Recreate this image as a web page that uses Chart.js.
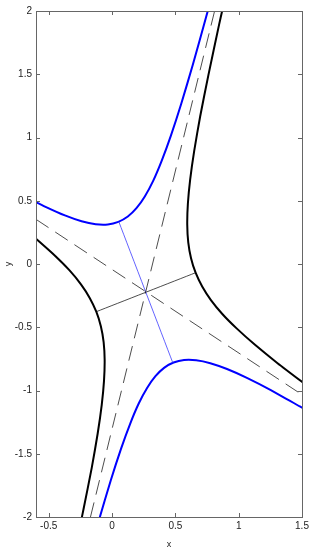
<!DOCTYPE html>
<html>
<head>
<meta charset="utf-8">
<script src="https://cdn.jsdelivr.net/npm/chart.js@4"></script>
<style>
  html, body { margin: 0; padding: 0; background: #fff; }
  canvas { display: block; }
</style>
</head>
<body>
<canvas id="chart" width="321" height="550"></canvas>
<script>
// tick labels
const xTicks = [-0.5, 0, 0.5, 1, 1.5];
const yTicks = [-2, -1.5, -1, -0.5, 0, 0.5, 1, 1.5, 2];

// blue hyperbola, upper-left branch
const blueUpper = [
  [-0.619, 0.499], [-0.529, 0.454], [-0.372, 0.384], [-0.240, 0.338], [-0.129, 0.315],
  [-0.033, 0.313], [0.050, 0.333], [0.125, 0.375], [0.193, 0.441], [0.259, 0.534],
  [0.325, 0.657], [0.392, 0.815], [0.465, 1.015], [0.546, 1.265], [0.638, 1.575],
  [0.744, 1.956], [0.774, 2.065]
];
// blue hyperbola, lower-right branch
const blueLower = [
  [-0.127, -2.109], [-0.102, -2.021], [-0.010, -1.711], [0.071, -1.461], [0.144, -1.261],
  [0.211, -1.103], [0.277, -0.980], [0.343, -0.887], [0.411, -0.821], [0.486, -0.779],
  [0.569, -0.759], [0.665, -0.761], [0.776, -0.784], [0.908, -0.830], [1.065, -0.900],
  [1.254, -0.997], [1.483, -1.126], [1.548, -1.163]
];
// black hyperbola, upper-right branch
const blackUpper = [
  [1.588, -0.997], [1.526, -0.951], [1.307, -0.784], [1.129, -0.639], [0.986, -0.511],
  [0.871, -0.395], [0.781, -0.285], [0.712, -0.178], [0.660, -0.069], [0.624, 0.046],
  [0.602, 0.171], [0.594, 0.313], [0.599, 0.476], [0.617, 0.667], [0.649, 0.894],
  [0.696, 1.166], [0.761, 1.493], [0.845, 1.890], [0.870, 2.002]
];
// black hyperbola, lower-left branch
const blackLower = [
  [-0.634, 0.227], [-0.593, 0.193], [-0.450, 0.065], [-0.335, -0.051], [-0.245, -0.161],
  [-0.176, -0.268], [-0.124, -0.377], [-0.088, -0.492], [-0.066, -0.618], [-0.058, -0.759],
  [-0.063, -0.922], [-0.081, -1.113], [-0.113, -1.340], [-0.160, -1.612], [-0.225, -1.939],
  [-0.244, -2.032]
];
// asymptotes (dashed)
const asymA = [[-0.6, 0.353], [1.5, -1.033]];
const asymB = [[-0.17, -2], [0.81, 2]];
// axes of the hyperbolas
const blueAxis = [[0.054, 0.334], [0.480, -0.781]];
const blackAxis = [[-0.124, -0.377], [0.660, -0.069]];

const pts = arr => arr.map(([x, y]) => ({ x, y }));

function curve(data, color, width) {
  return { data: pts(data), borderColor: color, borderWidth: width, showLine: true,
           pointRadius: 0, tension: 0.2, fill: false };
}
function dashed(data) {
  return { data: pts(data), borderColor: 'rgba(0,0,0,0.7)', borderWidth: 1, showLine: true,
           pointRadius: 0, borderDash: [15, 8], fill: false };
}

// frame with inward tick marks on all four sides
const frame = {
  id: 'frame',
  afterDraw(c) {
    const { ctx, chartArea: a, scales } = c;
    ctx.save();
    ctx.strokeStyle = '#666';
    ctx.lineWidth = 1;
    ctx.strokeRect(a.left + 0.5, a.top + 0.5, a.right - a.left, a.bottom - a.top);
    ctx.beginPath();
    xTicks.forEach(v => {
      const px = Math.round(scales.x.getPixelForValue(v)) + 0.5;
      ctx.moveTo(px, a.bottom); ctx.lineTo(px, a.bottom - 4);
      ctx.moveTo(px, a.top); ctx.lineTo(px, a.top + 4);
    });
    yTicks.forEach(v => {
      const py = Math.round(scales.y.getPixelForValue(v)) + 0.5;
      ctx.moveTo(a.left, py); ctx.lineTo(a.left + 4, py);
      ctx.moveTo(a.right, py); ctx.lineTo(a.right - 4, py);
    });
    ctx.stroke();
    ctx.restore();
  }
};

const font = { family: 'Liberation Sans, Arial, sans-serif', size: 10 };

new Chart(document.getElementById('chart').getContext('2d'), {
  type: 'scatter',
  data: {
    datasets: [
      dashed(asymA),
      dashed(asymB),
      curve(blueAxis, 'rgba(60,60,255,0.8)', 1),
      curve(blackAxis, 'rgba(0,0,0,0.7)', 1),
      curve(blueUpper, '#0000ff', 2),
      curve(blueLower, '#0000ff', 2),
      curve(blackUpper, '#000000', 2),
      curve(blackLower, '#000000', 2)
    ]
  },
  options: {
    responsive: false,
    animation: false,
    layout: { padding: 0 },
    plugins: { legend: { display: false }, tooltip: { enabled: false } },
    scales: {
      x: {
        type: 'linear', min: -0.6, max: 1.5,
        afterBuildTicks: s => { s.ticks = xTicks.map(v => ({ value: v })); },
        afterFit: s => { s.height = 33; },
        grid: { display: false, drawTicks: false },
        border: { display: false },
        ticks: { font, color: '#222', padding: 3, maxRotation: 0, callback: v => String(v) },
        title: { display: true, text: 'x', font: { ...font, size: 9 }, color: '#222', padding: { top: 7, bottom: 0 } }
      },
      y: {
        type: 'linear', min: -2, max: 2,
        afterBuildTicks: s => { s.ticks = yTicks.map(v => ({ value: v })); },
        afterFit: s => { s.width = 36; },
        grid: { display: false, drawTicks: false },
        border: { display: false },
        ticks: { font, color: '#222', padding: 4, callback: v => String(v) },
        title: { display: true, text: 'y', font: { ...font, size: 9 }, color: '#222', padding: { top: 3, bottom: 0 } }
      },
      x2: {
        type: 'linear', position: 'top', min: -0.6, max: 1.5,
        afterFit: s => { s.height = 11; },
        grid: { display: false, drawTicks: false }, border: { display: false },
        ticks: { display: false }
      },
      y2: {
        type: 'linear', position: 'right', min: -2, max: 2,
        afterFit: s => { s.width = 19; },
        grid: { display: false, drawTicks: false }, border: { display: false },
        ticks: { display: false }
      }
    }
  },
  plugins: [frame]
});
</script>
</body>
</html>
